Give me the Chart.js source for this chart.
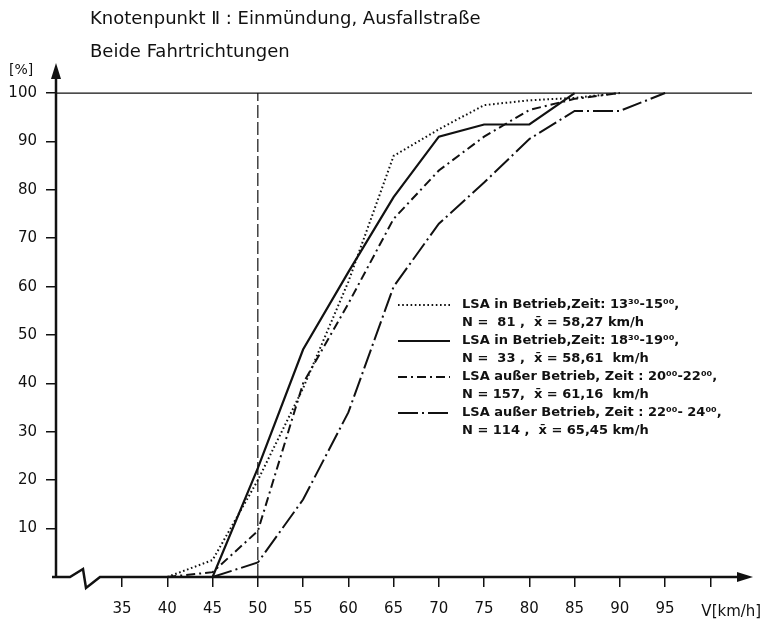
<!doctype html>
<html lang="de">
<head>
<meta charset="utf-8">
<title>Knotenpunkt II</title>
<script src="https://cdn.jsdelivr.net/npm/chart.js/dist/chart.umd.min.js"></script>
<style>
  * { margin: 0; padding: 0; }
  body { background: #fff; }
</style>
</head>
<body>
<canvas id="cumChart" width="761" height="620"></canvas>
<script>
// speeds in km/h, cumulative share in % (null = no point)
const speeds = [40, 45, 50, 55, 60, 65, 70, 75, 80, 85, 90, 95];
const share1330 = [0, 3.5, 20, 39, 61, 87, 92.5, 97.5, 98.5, 99, 100, null];
const share1830 = [null, 0, 22.5, 47, 63, 78.5, 91, 93.5, 93.5, 100, null, null];
const share2000 = [0, 1, 9.5, 40, 56.5, 74, 84, 91, 96.5, 98.8, 100, null];
const share2200 = [null, 0, 3, 16, 34, 60, 73, 81.5, 90.5, 96.3, 96.3, 100];

const seriesLabels = [
  'LSA in Betrieb,Zeit: 13³⁰-15⁰⁰,',
  'LSA in Betrieb,Zeit: 18³⁰-19⁰⁰,',
  'LSA außer Betrieb, Zeit : 20⁰⁰-22⁰⁰,',
  'LSA außer Betrieb, Zeit : 22⁰⁰- 24⁰⁰,'
];
const seriesStats = [
  'N =  81 ,  x̄ = 58,27 km/h',
  'N =  33 ,  x̄ = 58,61  km/h',
  'N = 157,  x̄ = 61,16  km/h',
  'N = 114 ,  x̄ = 65,45 km/h'
];

const xTicks = [35, 40, 45, 50, 55, 60, 65, 70, 75, 80, 85, 90, 95, 100];
const yTicks = [10, 20, 30, 40, 50, 60, 70, 80, 90, 100];
const speedLimit = 50;
const fullShare = 100;
const xMin = 27.7, xMax = 104.6;

const ink = '#111';
const font = 'DejaVu Sans';

function pts(arr) {
  return speeds.map((s, i) => ({ x: s, y: arr[i] })).filter(p => p.y !== null);
}

// axes with arrows, axis break, titles and the inner legend
const decor = {
  id: 'decor',
  afterDraw(chart) {
    const c = chart.ctx, a = chart.chartArea;
    c.save();
    c.strokeStyle = ink; c.fillStyle = ink;
    c.lineWidth = 2.5; c.setLineDash([]);
    // y axis
    c.beginPath();
    c.moveTo(a.left, a.bottom);
    c.lineTo(a.left, a.top + 12);
    c.stroke();
    c.beginPath();
    c.moveTo(a.left, a.top - 1);
    c.lineTo(a.left - 5, a.top + 15);
    c.lineTo(a.left + 5, a.top + 15);
    c.closePath(); c.fill();
    // x axis with break
    c.beginPath();
    c.moveTo(a.left - 4, a.bottom);
    c.lineTo(a.left + 14, a.bottom);
    c.lineTo(a.left + 27, a.bottom - 8);
    c.lineTo(a.left + 30, a.bottom + 11);
    c.lineTo(a.left + 44, a.bottom);
    c.lineTo(a.right - 12, a.bottom);
    c.stroke();
    c.beginPath();
    c.moveTo(a.right + 1, a.bottom);
    c.lineTo(a.right - 15, a.bottom - 5);
    c.lineTo(a.right - 15, a.bottom + 5);
    c.closePath(); c.fill();

    // titles
    c.textBaseline = 'alphabetic'; c.textAlign = 'left';
    c.font = '18px "' + font + '"';
    c.fillText('Knotenpunkt Ⅱ : Einmündung, Ausfallstraße', 90, 24);
    c.fillText('Beide Fahrtrichtungen', 90, 57);
    c.font = '14px "' + font + '"';
    c.fillText('[%]', 9, 74);
    c.font = '15px "' + font + '"';
    const xs = chart.scales.x;
    c.fillText('V[km/h]', xs.getPixelForValue(100) - 9, 616);

    // legend
    const ds = chart.data.datasets.slice(0, 4);
    ds.forEach((d, i) => {
      const y = 305 + i * 36;
      c.strokeStyle = ink;
      c.lineWidth = d.borderWidth;
      c.setLineDash(d.borderDash || []);
      c.beginPath();
      c.moveTo(398, y); c.lineTo(450, y);
      c.stroke();
      c.setLineDash([]);
      c.font = 'bold 13px "' + font + '"';
      c.textBaseline = 'middle';
      c.fillText(seriesLabels[i], 462, y);
      c.fillText(seriesStats[i], 462, y + 18);
    });
    c.restore();
  }
};

const tickFont = { family: font, size: 15 };

new Chart(document.getElementById('cumChart'), {
  type: 'line',
  data: {
    datasets: [
      { label: seriesLabels[0], data: pts(share1330), borderDash: [1.6, 2.6], borderWidth: 2 },
      { label: seriesLabels[1], data: pts(share1830), borderDash: [], borderWidth: 2.2 },
      { label: seriesLabels[2], data: pts(share2000), borderDash: [9, 4, 2, 4], borderWidth: 2 },
      { label: seriesLabels[3], data: pts(share2200), borderDash: [20, 4, 2, 4], borderWidth: 2 },
      { label: 'limit', data: [{ x: speedLimit, y: 0 }, { x: speedLimit, y: fullShare }], borderDash: [13, 4], borderWidth: 1.2 },
      { label: 'full', data: [{ x: xMin, y: fullShare }, { x: xMax, y: fullShare }], borderDash: [], borderWidth: 1.3 }
    ].map(d => Object.assign({
      borderColor: ink, backgroundColor: ink, pointRadius: 0, fill: false, tension: 0
    }, d))
  },
  options: {
    responsive: false,
    animation: false,
    layout: { padding: { left: 0, top: 64, right: 9, bottom: 0 } },
    plugins: { legend: { display: false }, tooltip: { enabled: false }, title: { display: false } },
    scales: {
      x: {
        type: 'linear', min: xMin, max: xMax,
        afterBuildTicks: s => { s.ticks = xTicks.map(v => ({ value: v })); },
        afterFit: s => { s.height = 43; },
        ticks: { font: tickFont, color: ink, padding: 13, maxRotation: 0, autoSkip: false,
                 callback: v => v === 100 ? '' : v },
        grid: { drawOnChartArea: false, drawTicks: true, tickLength: 10, color: ink, lineWidth: 1.5 },
        border: { display: false }
      },
      y: {
        type: 'linear', min: 0, max: 106,
        afterBuildTicks: s => { s.ticks = yTicks.map(v => ({ value: v })); },
        afterFit: s => { s.width = 56; },
        ticks: { font: tickFont, color: ink, padding: 9, autoSkip: false },
        grid: { drawOnChartArea: false, drawTicks: true, tickLength: 10, color: ink, lineWidth: 1.5 },
        border: { display: false }
      }
    }
  },
  plugins: [decor]
});
</script>
</body>
</html>
